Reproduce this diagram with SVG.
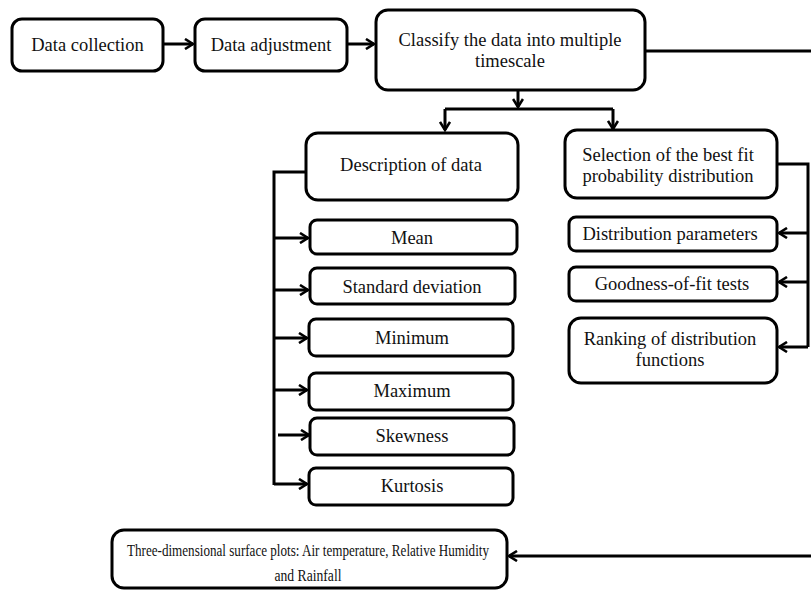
<svg xmlns="http://www.w3.org/2000/svg" width="811" height="590" viewBox="0 0 811 590" font-family="Liberation Serif, serif">
<defs>
<style>
.box{fill:#fff;stroke:#000;stroke-width:3}
.t{font-size:18.5px;fill:#111;text-anchor:middle}
.c{fill:none;stroke:#000;stroke-width:3}
</style>
<marker id="ah" viewBox="0 0 12 12" refX="10" refY="6" markerWidth="12" markerHeight="12" markerUnits="userSpaceOnUse" orient="auto">
<path d="M2,1 L10,6 L2,11" fill="none" stroke="#000" stroke-width="2.6"/>
</marker>
</defs>
<rect width="811" height="590" fill="#fff"/>
<g id="connectors">
<path class="c" d="M163,44 H193" marker-end="url(#ah)"/>
<path class="c" d="M347,44 H374" marker-end="url(#ah)"/>
<path class="c" d="M645,51 H811"/>
<path class="c" d="M518,90 V107" marker-end="url(#ah)"/>
<path class="c" d="M445,109 H613"/>
<path class="c" d="M445,109 V130" marker-end="url(#ah)"/>
<path class="c" d="M613,109 V129" marker-end="url(#ah)"/>
<path class="c" d="M306,172 H274 V485"/>
<path class="c" d="M274,238 H308" marker-end="url(#ah)"/>
<path class="c" d="M274,290 H308" marker-end="url(#ah)"/>
<path class="c" d="M274,338 H307" marker-end="url(#ah)"/>
<path class="c" d="M274,390 H307" marker-end="url(#ah)"/>
<path class="c" d="M278,435 H309" marker-end="url(#ah)"/>
<path class="c" d="M274,484 H307" marker-end="url(#ah)"/>
<path class="c" d="M777,164 H808 V347"/>
<path class="c" d="M808,233 H779" marker-end="url(#ah)"/>
<path class="c" d="M808,282 H779" marker-end="url(#ah)"/>
<path class="c" d="M808,347 H779" marker-end="url(#ah)"/>
<path class="c" d="M811,556 H509" marker-end="url(#ah)"/>
</g>
<g id="data-collection"><rect class="box" x="12" y="19" width="151" height="52" rx="10"/><text class="t" x="87.5" y="51">Data collection</text></g>
<g id="data-adjustment"><rect class="box" x="195" y="19" width="152" height="52" rx="10"/><text class="t" x="271" y="51">Data adjustment</text></g>
<g id="classify"><rect class="box" x="376" y="10" width="269" height="80" rx="12"/><text class="t" x="510" y="46">Classify the data into multiple</text><text class="t" x="510" y="67">timescale</text></g>
<g id="description"><rect class="box" x="306" y="133" width="212" height="67" rx="12"/><text class="t" x="411" y="171">Description of data</text></g>
<g id="mean"><rect class="box" x="310" y="220" width="207" height="34" rx="7"/><text class="t" x="412" y="244">Mean</text></g>
<g id="std"><rect class="box" x="310" y="268" width="205" height="36" rx="7"/><text class="t" x="412" y="293">Standard deviation</text></g>
<g id="minimum"><rect class="box" x="309" y="319" width="204" height="37" rx="7"/><text class="t" x="412" y="344">Minimum</text></g>
<g id="maximum"><rect class="box" x="309" y="373" width="204" height="37" rx="7"/><text class="t" x="412" y="397">Maximum</text></g>
<g id="skewness"><rect class="box" x="310" y="418" width="204" height="37" rx="7"/><text class="t" x="412" y="442">Skewness</text></g>
<g id="kurtosis"><rect class="box" x="309" y="468" width="204" height="37" rx="7"/><text class="t" x="412" y="492">Kurtosis</text></g>
<g id="selection"><rect class="box" x="565" y="130" width="212" height="68" rx="12"/><text class="t" x="668" y="161">Selection of the best fit</text><text class="t" x="668" y="182">probability distribution</text></g>
<g id="dist-params"><rect class="box" x="569" y="217" width="208" height="34" rx="7"/><text class="t" x="670" y="240">Distribution parameters</text></g>
<g id="gof"><rect class="box" x="569" y="267" width="208" height="34" rx="7"/><text class="t" x="672" y="290">Goodness-of-fit tests</text></g>
<g id="ranking"><rect class="box" x="569" y="318" width="208" height="65" rx="12"/><text class="t" x="670" y="345">Ranking of distribution</text><text class="t" x="670" y="366">functions</text></g>
<g id="surface-plots"><rect class="box" x="112" y="530" width="395" height="58" rx="12"/><text class="t" x="308" y="556" style="font-size:17px" textLength="362" lengthAdjust="spacingAndGlyphs">Three-dimensional surface plots: Air temperature, Relative Humidity</text><text class="t" x="308" y="581" style="font-size:17px" textLength="67" lengthAdjust="spacingAndGlyphs">and Rainfall</text></g>
</svg>
